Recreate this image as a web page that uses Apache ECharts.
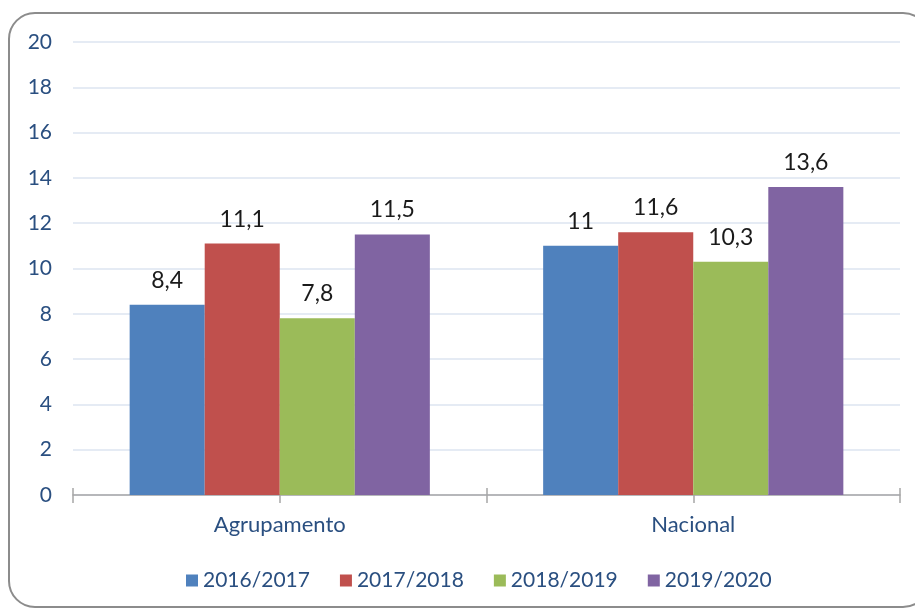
<!DOCTYPE html>
<html>
<head>
<meta charset="utf-8">
<style>
  html, body { margin: 0; padding: 0; background: #ffffff; }
  #chart { width: 915px; height: 612px; }
</style>
<script src="https://cdn.jsdelivr.net/npm/echarts@6/dist/echarts.min.js"></script>
</head>
<body>
<div id="chart"></div>
<script>
// Categories and yearly values
const categories = ['Agrupamento', 'Nacional'];
const seriesNames = ['2016/2017', '2017/2018', '2018/2019', '2019/2020'];
const values2016 = [8.4, 11.0];
const values2017 = [11.1, 11.6];
const values2018 = [7.8, 10.3];
const values2019 = [11.5, 13.6];
const yTicks = { min: 0, max: 20, step: 2 };

const colors = ['#4F81BD', '#C0504D', '#9BBB59', '#8064A2'];
const textBlue = '#2A4F80';
const font = 'Lato';

const seriesValues = [values2016, values2017, values2018, values2019];

const chart = echarts.init(document.getElementById('chart'), null, { renderer: 'canvas' });

const series = seriesNames.map((name, i) => ({
  name: name,
  type: 'bar',
  xAxisIndex: 0,
  yAxisIndex: 0,
  data: seriesValues[i],
  barGap: '0%',
  barCategoryGap: '27.4%',
  itemStyle: { color: colors[i] },
  label: {
    show: true,
    position: 'top',
    distance: 13,
    color: '#1a1a1a',
    fontFamily: font,
    fontSize: 23,
    formatter: p => String(p.value).replace('.', ',')
  },
  emphasis: { disabled: true }
}));

chart.setOption({
  animation: false,
  color: colors,
  textStyle: { fontFamily: font },
  graphic: [{
    type: 'rect',
    z: -10,
    shape: { x: 9, y: 13, width: 920, height: 594, r: 26 },
    style: { fill: '#ffffff', stroke: '#8c8c8c', lineWidth: 2 }
  }],
  grid: { left: 73, right: 15, top: 42, bottom: 117, containLabel: false },
  legend: {
    bottom: 16,
    left: 181,
    itemWidth: 12,
    itemHeight: 12,
    itemGap: 30,
    icon: 'rect',
    textStyle: { color: textBlue, fontFamily: font, fontSize: 21 },
    data: seriesNames
  },
  xAxis: [{
    type: 'category',
    data: categories,
    axisLine: { show: true, lineStyle: { color: '#a6a6a6', width: 1.5 } },
    axisTick: { show: true, inside: true, length: 7, lineStyle: { color: '#a6a6a6', width: 1.5 } },
    axisLabel: { color: textBlue, fontFamily: font, fontSize: 22, margin: 19 },
    splitLine: { show: false }
  }, {
    // finer tick marks under the axis line, at each half-category step
    type: 'category',
    position: 'bottom',
    data: ['', '', '', ''],
    axisLine: { show: false },
    axisTick: { show: true, length: 8, lineStyle: { color: '#a6a6a6', width: 1.5 } },
    axisLabel: { show: false },
    splitLine: { show: false }
  }],
  yAxis: {
    type: 'value',
    min: yTicks.min,
    max: yTicks.max,
    interval: yTicks.step,
    axisLine: { show: false },
    axisTick: { show: false },
    axisLabel: { color: textBlue, fontFamily: font, fontSize: 21, margin: 21 },
    splitLine: { show: true, lineStyle: { color: '#DCE5F0', width: 1.5 } }
  },
  series: series
});
</script>
</body>
</html>
